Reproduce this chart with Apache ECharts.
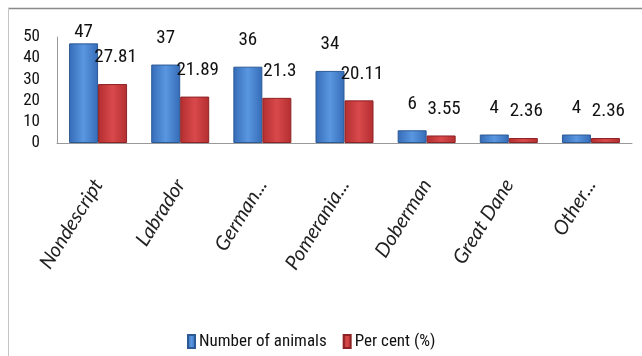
<!DOCTYPE html>
<html>
<head>
<meta charset="utf-8">
<script src="https://cdn.jsdelivr.net/npm/echarts@6/dist/echarts.min.js"></script>
<style>html,body{margin:0;padding:0;background:#fff}#c{width:642px;height:356px}</style>
</head>
<body>
<div id="c"></div>
<script>
var categories = ['Nondescript', 'Labrador', 'German...', 'Pomerania...', 'Doberman', 'Great Dane', 'Other...'];
var numberOfAnimals = [47, 37, 36, 34, 6, 4, 4];
var perCent = [27.81, 21.89, 21.3, 20.11, 3.55, 2.36, 2.36];
var seriesNames = ['Number of animals', 'Per cent (%)'];
var yTicks = [0, 10, 20, 30, 40, 50];

var NARROW = '"Roboto Condensed","DejaVu Sans Condensed",sans-serif';
var chart = echarts.init(document.getElementById('c'), null, {renderer: 'canvas'});

function grad(c1, c2) {
  return new echarts.graphic.LinearGradient(0, 0, 1, 0, [
    {offset: 0, color: c1}, {offset: 0.5, color: c2}, {offset: 1, color: c1}
  ]);
}

var blueData = numberOfAnimals.map(function (v, i) {
  var d = {value: v};
  if (i === 0) d.label = {distance: 2};
  return d;
});

chart.setOption({
  animation: false,
  backgroundColor: '#fff',
  graphic: [
    {type: 'line', shape: {x1: 8, y1: 8.5, x2: 642, y2: 8.5}, style: {stroke: '#8a8a8a', lineWidth: 1.5}},
    {type: 'line', shape: {x1: 8.5, y1: 8, x2: 8.5, y2: 356}, style: {stroke: '#c4c4c4', lineWidth: 1}}
  ],
  grid: {left: 57, right: 10, top: 37, bottom: 213},
  legend: {
    data: seriesNames,
    left: 182, top: 328,
    itemWidth: 7, itemHeight: 13, itemGap: 16,
    icon: 'rect',
    textStyle: {fontFamily: NARROW, fontSize: 17, color: '#111', padding: [0, 0, 0, -1]}
  },
  xAxis: {
    type: 'category',
    data: categories,
    axisLine: {lineStyle: {color: '#999', width: 1}},
    axisTick: {show: false},
    axisLabel: {
      rotate: 58, margin: 38, interval: 0,
      fontFamily: 'Lato,"Open Sans",sans-serif', fontStyle: 'italic', fontSize: 20, color: '#222'
    }
  },
  yAxis: {
    type: 'value', min: 0, max: 50, interval: 10,
    axisLine: {show: true, lineStyle: {color: '#999', width: 1}},
    axisTick: {show: false},
    splitLine: {show: false},
    axisLabel: {margin: 17, fontFamily: NARROW, fontSize: 17, color: '#111'}
  },
  series: [
    {
      name: seriesNames[0], type: 'bar', data: blueData,
      barWidth: 29, barGap: '0%',
      itemStyle: {color: grad('#356bb8', '#5a97e0'), borderColor: '#2c5a95', borderWidth: 1},
      label: {show: true, position: 'top', distance: 17, fontFamily: NARROW, fontSize: 19, color: '#111'}
    },
    {
      name: seriesNames[1], type: 'bar', data: perCent,
      barWidth: 29,
      itemStyle: {color: grad('#b32e30', '#d9494b'), borderColor: '#8e2326', borderWidth: 1},
      label: {show: true, position: 'top', distance: 17, offset: [3, 0], fontFamily: NARROW, fontSize: 19, color: '#111'}
    }
  ]
});
</script>
</body>
</html>
